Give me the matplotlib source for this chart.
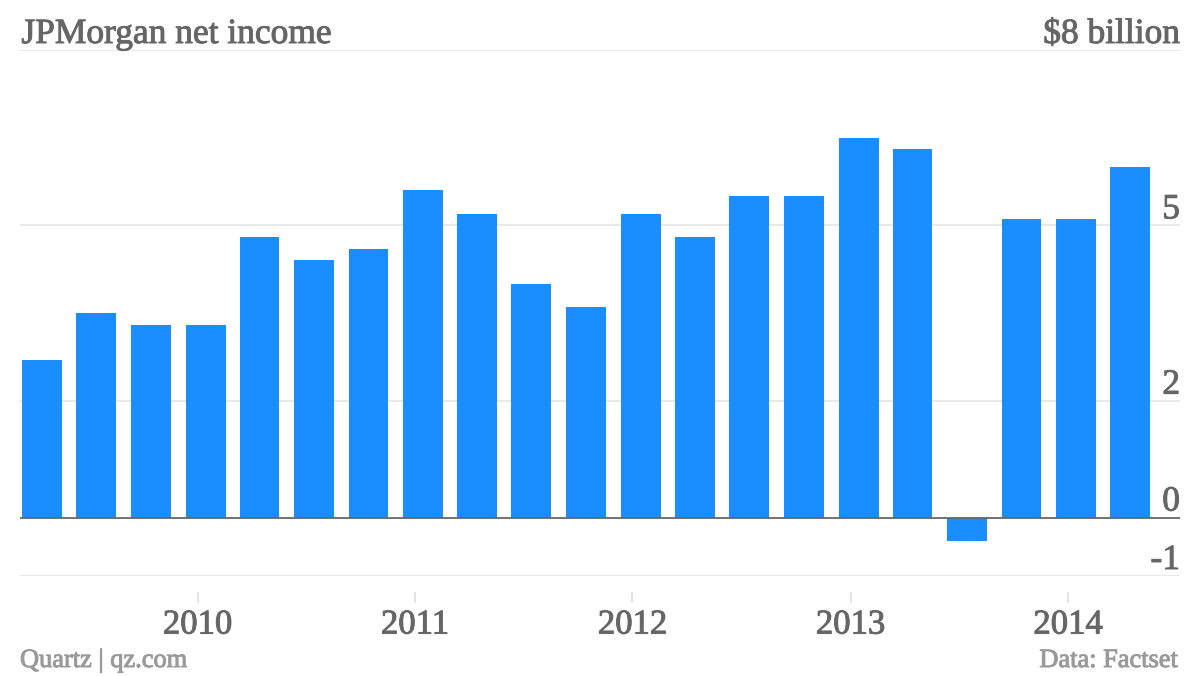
import matplotlib
matplotlib.use("Agg")
import matplotlib.pyplot as plt
import matplotlib.patheffects as pe
import pandas as pd

# ---- data ----
report_dates = ["2009-04-15", "2009-07-15", "2009-10-15",
                "2010-01-15", "2010-04-15", "2010-07-15", "2010-10-15",
                "2011-01-15", "2011-04-15", "2011-07-15", "2011-10-15",
                "2012-01-15", "2012-04-15", "2012-07-15", "2012-10-15",
                "2013-01-15", "2013-04-15", "2013-07-15", "2013-10-15",
                "2014-01-15", "2014-04-15"]
net_income = [2.7, 3.5, 3.3,
              3.3, 4.8, 4.4, 4.6,
              5.6, 5.2, 4.0, 3.6,
              5.2, 4.8, 5.5, 5.5,
              6.5, 6.3, -0.4, 5.1,
              5.1, 6.0]
y_ticks = [8, 5, 2, 0, -1]
y_tick_labels = ["$8 billion", "5", "2", "0", "-1"]
year_ticks = ["2010-01-01", "2011-01-01", "2012-01-01", "2013-01-01", "2014-01-01"]
year_labels = ["2010", "2011", "2012", "2013", "2014"]
title = "JPMorgan net income"
source_left = "Quartz | qz.com"
source_right = "Data: Factset"

FONT = ["Liberation Serif", "DejaVu Serif"]
plt.rcParams["font.family"] = FONT
TXT = "#666666"
FOOT = "#9a9a9a"
BAR = "#1a8eff"
GRID = "#e5e5e5"

def thick(c):
    return [pe.withStroke(linewidth=0.7, foreground=c)]

W, H = 1200, 676
fig = plt.figure(figsize=(W / 100, H / 100), dpi=100)
ax = fig.add_axes([20 / W, 100 / H, 1160 / W, 526 / H])

x = pd.to_datetime(report_dates)
ax.bar(x, net_income, width=67, color=BAR, zorder=2, linewidth=0)

ax.set_ylim(-1, 8)
ax.set_xlim(pd.Timestamp("2009-03-09"), pd.Timestamp("2014-07-08"))

# gridlines & zero line
for v in y_ticks:
    if v == 0:
        ax.axhline(v, color="#666666", lw=1.3, zorder=3)
    else:
        ax.axhline(v, color=GRID, lw=1.2, zorder=1)

# y labels: right-aligned above their lines
for v, lab in zip(y_ticks, y_tick_labels):
    ax.annotate(lab, xy=(1.0, v), xycoords=("axes fraction", "data"),
                xytext=(0, 7 * 0.72), textcoords="offset points",
                ha="right", va="baseline", fontsize=25.5, color=TXT,
                path_effects=thick(TXT))

# title
ax.annotate(title, xy=(0.0, 8), xycoords=("axes fraction", "data"),
            xytext=(1, 7 * 0.72), textcoords="offset points",
            ha="left", va="baseline", fontsize=25.5, color=TXT,
            path_effects=thick(TXT))

# spines & ticks
for s in ["top", "right", "left"]:
    ax.spines[s].set_visible(False)
ax.spines["bottom"].set_position(("outward", 16 * 0.72))
ax.spines["bottom"].set_visible(False)
ax.set_yticks([])
ax.set_xticks(pd.to_datetime(year_ticks))
ax.set_xticklabels(year_labels)
ax.tick_params(axis="x", direction="out", length=11 * 0.72, width=1.1,
               color="#dddddd", labelsize=25, labelcolor=TXT, pad=4)
for t in ax.get_xticklabels():
    t.set_path_effects(thick(TXT))

# footer
fig.text(20 / W, (H - 667) / H, source_left, ha="left", va="baseline",
         fontsize=19, color=FOOT, path_effects=thick(FOOT))
fig.text(1178 / W, (H - 667) / H, source_right, ha="right", va="baseline",
         fontsize=19, color=FOOT, path_effects=thick(FOOT))

fig.savefig("out.png", dpi=100, facecolor="white")
